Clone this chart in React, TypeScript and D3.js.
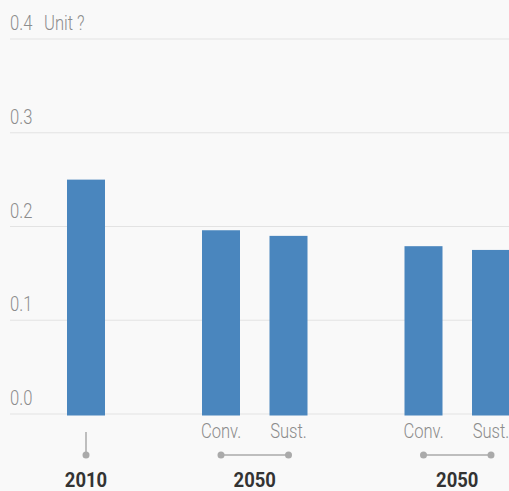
import React, { useEffect, useRef } from 'react';
import * as d3 from 'd3';

// slots along the x axis, blanks are spacers between groups
const slots = ['2010', 'gapA', 'A-Conv', 'A-Sust', 'gapB', 'B-Conv', 'B-Sust'];
const barKeys = ['2010', 'A-Conv', 'A-Sust', 'B-Conv', 'B-Sust'];
const barValues = [0.25, 0.196, 0.19, 0.179, 0.175];
const subLabels = ['', 'Conv.', 'Sust.', 'Conv.', 'Sust.'];
const groupLabels = ['2010', '2050', '2050'];
const groupMembers = [['2010'], ['A-Conv', 'A-Sust'], ['B-Conv', 'B-Sust']];
const yTicks = [0, 0.1, 0.2, 0.3, 0.4];
const unitLabel = 'Unit ?';

const W = 509;
const H = 491;
const FONT = 'Roboto, sans-serif';

// condensed-looking text: Roboto squeezed horizontally
function label(parent: any, x: number, y: number, txt: string, opts: any = {}) {
  const sx = opts.sx ?? 0.79;
  parent.append('g')
    .attr('transform', `translate(${x},${y}) scale(${sx},1)`)
    .append('text')
    .attr('text-anchor', opts.anchor ?? 'start')
    .attr('font-family', FONT)
    .attr('font-size', opts.size ?? 21)
    .attr('font-weight', opts.weight ?? 300)
    .attr('fill', opts.fill ?? '#8c8c8c')
    .text(txt);
}

export default function App() {
  const svgRef = useRef<SVGSVGElement>(null);

  useEffect(() => {
    const svg = d3.select(svgRef.current);
    svg.selectAll('*').remove();

    svg.append('rect').attr('width', W).attr('height', H).attr('fill', '#f9f9f9');

    const x = d3.scalePoint<string>().domain(slots).range([86, 491]);
    const y = d3.scaleLinear().domain([0, 0.4]).range([414, 39]);
    const barW = 38;

    // grid + tick labels
    const grid = svg.append('g');
    grid.selectAll('line')
      .data(yTicks)
      .join('line')
      .attr('x1', 10)
      .attr('x2', W)
      .attr('y1', d => y(d))
      .attr('y2', d => y(d))
      .attr('stroke', '#e3e3e3')
      .attr('stroke-width', 1.2);
    yTicks.forEach(t => label(grid, 10, y(t) - 9, d3.format('.1f')(t)));
    label(svg, 44, y(0.4) - 9, unitLabel);

    // bars
    svg.append('g')
      .selectAll('rect')
      .data(barKeys)
      .join('rect')
      .attr('x', d => (x(d) as number) - barW / 2)
      .attr('y', (d, i) => y(barValues[i]))
      .attr('width', barW)
      .attr('height', (d, i) => y(0) - y(barValues[i]) + 1.5)
      .attr('fill', '#4a86be');

    // sub labels
    const subs = svg.append('g');
    barKeys.forEach((k, i) => {
      if (subLabels[i]) label(subs, x(k) as number, 438, subLabels[i], { anchor: 'middle' });
    });

    // group connectors
    const conn = svg.append('g').attr('stroke', '#aaa').attr('fill', '#aaa');
    groupMembers.forEach((m, gi) => {
      const xs = m.map(k => x(k) as number);
      const cx = d3.mean(xs) as number;
      if (xs.length === 1) {
        conn.append('line')
          .attr('x1', xs[0]).attr('x2', xs[0])
          .attr('y1', 432).attr('y2', 455)
          .attr('stroke-width', 1.5);
      } else {
        conn.append('line')
          .attr('x1', xs[0]).attr('x2', xs[xs.length - 1])
          .attr('y1', 455).attr('y2', 455)
          .attr('stroke-width', 1.5);
      }
      xs.forEach(px => {
        conn.append('circle').attr('cx', px).attr('cy', 455).attr('r', 3.5).attr('stroke', 'none');
      });
      label(svg, cx, 487, groupLabels[gi], { anchor: 'middle', weight: 'bold', size: 20.5, sx: 0.9, fill: '#333' });
    });
  }, []);

  return (
    <svg
      ref={svgRef}
      width={W}
      height={H}
      style={{ position: 'absolute', left: 0, top: 0, display: 'block' }}
    />
  );
}
